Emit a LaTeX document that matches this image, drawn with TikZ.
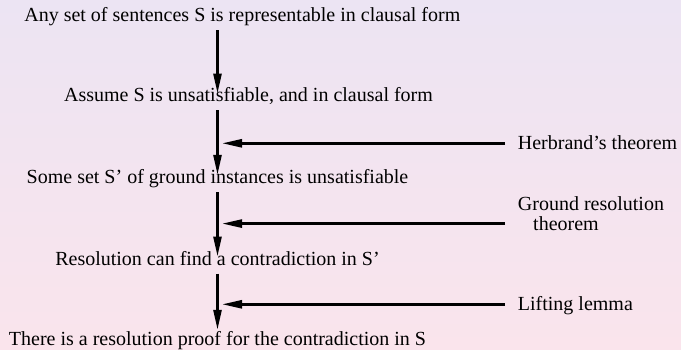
\documentclass[tikz,border=0pt]{standalone}
\usepackage{fontspec}
\setmainfont{Liberation Serif}
\usetikzlibrary{arrows.meta,calc}
\definecolor{bgtop}{RGB}{236,228,243}
\definecolor{bgbot}{RGB}{250,228,236}

\tikzset{
  stmt/.style={anchor=base,inner sep=1pt,text height=13pt,text depth=4.5pt},
  why/.style={anchor=base west,inner sep=0pt,align=left},
  arr/.style={-{Triangle[length=20pt,width=8pt]},line width=2.6pt},
}

\begin{document}
\begin{tikzpicture}[x=1pt,y=-1pt,font=\fontsize{20}{20}\selectfont]
\shade[top color=bgtop,bottom color=bgbot] (0,0) rectangle (681,349);
\useasboundingbox (0,0) rectangle (681,349);
% the chain of statements
\node[stmt] (n1) at (242.3,21.7) {Any set of sentences S is representable in clausal form};
\node[stmt] (n2) at (248.5,101.7) {Assume S is unsatisfiable, and in clausal form};
\node[stmt] (n3) at (217.5,183.3) {Some set S' of ground instances is unsatisfiable};
\node[stmt] (n4) at (217.5,265) {Resolution can find a contradiction in S'};
\node[stmt] (n5) at (217.5,345.7) {There is a resolution proof for the contradiction in S};
% the reasons
\node[why] (h1) at (517.7,149.3) {Herbrand's theorem};
\node[why] (h2) at (517.7,230) {Ground resolution\\\hspace*{15.3pt}theorem};
\node[why] (h3) at (517.7,310.7) {Lifting lemma};
\coordinate (t1) at ([yshift=6pt]h1.base west);
\coordinate (t2) at ([yshift=6.4pt]h2.base west);
\coordinate (t3) at ([yshift=6.4pt]h3.base west);
% arrows
\draw[arr,shorten <=3pt,shorten >=-6pt] (n1.south -| n3) -- (n2.north -| n3);
\draw[arr,shorten <=3pt,shorten >=-5.7pt] (n2.south -| n3) -- (n3.north);
\draw[arr,shorten <=3pt,shorten >=-5.7pt] (n3.south) -- (n4.north);
\draw[arr,shorten <=3pt,shorten >=1.7pt] (n4.south) -- (n5.north);
\draw[arr,shorten <=12.7pt,shorten >=4.5pt] (t1) -- (t1 -| n3);
\draw[arr,shorten <=12.7pt,shorten >=4.5pt] (t2) -- (t2 -| n3);
\draw[arr,shorten <=12.7pt,shorten >=4.5pt] (t3) -- (t3 -| n3);
\end{tikzpicture}
\end{document}
